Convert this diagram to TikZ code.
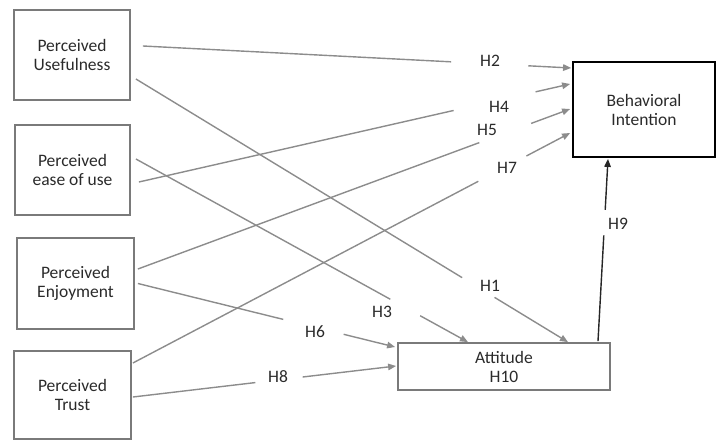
\documentclass[tikz,border=0pt]{standalone}
\usepackage{fontspec}
\setmainfont{Carlito}
\usetikzlibrary{arrows.meta, calc}

\definecolor{linegray}{HTML}{8C8C8C}
\definecolor{boxgray}{HTML}{7A7A7A}
\definecolor{textgray}{HTML}{2A2A2A}

\begin{document}
\begin{tikzpicture}[x=1pt, y=-1pt,
      box/.style={rectangle, draw=boxgray, line width=1.8pt, inner sep=0pt, align=center, text=textgray, font=\fontsize{17.5}{19}\selectfont},
      hyp/.style={inner sep=1pt, text=textgray, font=\fontsize{17.5}{19}\selectfont},
      link/.style={draw=linegray, line width=1.4pt},
      arrow/.style={link, -{Triangle[length=8pt, width=6.5pt]}}
    ]
    \useasboundingbox (0,0) rectangle (717,441);

    % constructs
    \node[box, minimum width=116pt, minimum height=90pt] (useful) at (72,55) {Perceived\\Usefulness};
    \node[box, minimum width=115pt, minimum height=90pt] (ease) at (72.5,170) {Perceived\\ease of use};
    \node[box, minimum width=117pt, minimum height=91pt] (enjoy) at (75.5,283.5) {Perceived\\Enjoyment};
    \node[box, minimum width=117pt, minimum height=88pt] (trust) at (72.5,395) {Perceived\\Trust};
    \node[box, draw=black, minimum width=142pt, minimum height=95pt] (intent) at (644,109.5) {Behavioral\\Intention};
    \node[box, minimum width=212pt, minimum height=47pt] (attitude) at (504,366.5) {Attitude\\H10};

    % connector ends
    \coordinate (u2) at ([shift={(12,-9)}]useful.east);
    \coordinate (u1) at ([shift={(5,24)}]useful.east);
    \coordinate (e4) at ([shift={(8,12)}]ease.east);
    \coordinate (e3) at ([shift={(5,-11)}]ease.east);
    \coordinate (j5) at ([shift={(3,-14.5)}]enjoy.east);
    \coordinate (j6) at ([shift={(3,0)}]enjoy.east);
    \coordinate (t7) at ([shift={(1,-32)}]trust.east);
    \coordinate (t8) at ([shift={(1,2)}]trust.east);
    \coordinate (i2) at ([shift={(-1,-41.5)}]intent.west);
    \coordinate (i4) at ([shift={(-2,-25.5)}]intent.west);
    \coordinate (i5) at ([shift={(-2,-0.5)}]intent.west);
    \coordinate (i7) at ([shift={(-2,23.5)}]intent.west);
    \coordinate (i9) at ([shift={(-36,1)}]intent.south);
    \coordinate (a1) at ([shift={(64,0)}]attitude.north);
    \coordinate (a3) at ([shift={(-36,0)}]attitude.north);
    \coordinate (a6) at ([shift={(-2,-19.5)}]attitude.west);
    \coordinate (a8) at ([shift={(-1,-0.5)}]attitude.west);
    \coordinate (a9) at ([shift={(94,-1)}]attitude.north);

    % broken connectors, label sits in the gap
    \foreach \from/\to/\cut/\resume in {u2/i2/0.72/0.90, e4/i4/0.73/0.92, j5/i5/0.79/0.91, t7/i7/0.79/0.90,
        u1/a1/0.755/0.83, e3/a3/0.766/0.856, j6/a6/0.565/0.80, t8/a8/0.465/0.645}
    {
      \draw[link] (\from) -- ($(\from)!\cut!(\to)$);
      \draw[arrow] ($(\from)!\resume!(\to)$) -- (\to);
    }
    \draw[link, draw=black!85] (a9) -- ($(a9)!0.58!(i9)$);
    \draw[arrow, draw=black!85, fill=black!85] ($(a9)!0.72!(i9)$) -- (i9);

    % hypotheses
    \node[hyp] (h2) at (490,61) {H2};
    \node[hyp] (h4) at (499,107) {H4};
    \node[hyp] (h5) at (487,130) {H5};
    \node[hyp] (h7) at (507,168) {H7};
    \node[hyp] (h1) at (490,286) {H1};
    \node[hyp] (h3) at (382,312) {H3};
    \node[hyp] (h6) at (315,332) {H6};
    \node[hyp] (h8) at (278,377) {H8};
    \node[hyp] (h9) at (618,224) {H9};
\end{tikzpicture}
\end{document}
